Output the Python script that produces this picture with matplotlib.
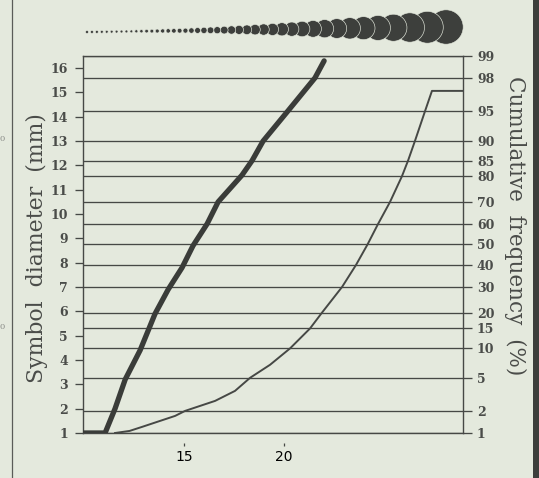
import math
import numpy as np
import matplotlib
matplotlib.use("Agg")
import matplotlib.pyplot as plt
from matplotlib.patches import Circle, Rectangle

# ---------------- data ----------------
# symbol scaling curve: data value -> symbol diameter (mm)
size_values = [9.92, 11.03, 11.53, 12.04, 12.79, 13.19, 13.54, 14.20, 14.90, 15.45,
               16.16, 16.71, 17.91, 18.42, 18.97, 20.18, 21.58, 22.04]
size_diam = [1.0, 1.0, 2.0, 3.2, 4.4, 5.2, 5.9, 6.9, 7.8, 8.7,
             9.6, 10.5, 11.6, 12.2, 13.0, 14.2, 15.6, 16.3]

# cumulative frequency curve: data value -> cumulative %
cum_values = [11.53, 12.26, 12.89, 14.55, 15.05, 16.56, 17.56, 18.32, 19.32, 20.33,
              21.33, 21.93, 22.94, 23.64, 24.22, 24.75, 25.35, 25.95, 26.26, 26.61,
              27.11, 27.46, 29.02]
cum_pct = [1.0, 1.07, 1.22, 1.72, 2.0, 2.68, 3.54, 5.0, 6.88, 10.0,
           15.0, 20.0, 30.0, 40.0, 50.0, 60.0, 70.0, 80.0, 85.0, 90.0,
           95.0, 97.1, 97.1]

# legend row of symbols (diameters in mm)
circle_mm = [1, 1, 1, 1, 1, 1, 1, 1, 1, 1,
             1.1, 1.2, 1.3, 1.4, 1.5, 1.6, 1.7, 1.8, 1.9, 2.0,
             2.2, 2.4, 2.6, 2.8, 3.0, 3.3, 3.6, 3.9, 4.2,
             4.6, 5.0, 5.4, 5.9, 6.4, 7.0, 7.6, 8.3, 9.0, 9.8,
             10.6, 11.5, 12.5, 13.6, 14.8, 16.0]

diam_ticks = list(range(1, 17))
pct_ticks = [1, 2, 5, 10, 15, 20, 30, 40, 50, 60, 70, 80, 85, 90, 95, 98, 99]
x_ticks = [15, 20]

# ---------------- helpers ----------------
def ppf(p):
    lo, hi = -8.0, 8.0
    for _ in range(80):
        mid = 0.5 * (lo + hi)
        if 0.5 * (1 + math.erf(mid / math.sqrt(2))) < p:
            lo = mid
        else:
            hi = mid
    return 0.5 * (lo + hi)

BG = "#e4e9dd"
INK = "#464845"
TXT = "#4a4c49"
SERIF = "DejaVu Serif"

W, H = 539, 478
fig = plt.figure(figsize=(W / 100, H / 100), dpi=100, facecolor=BG)

deco = fig.add_axes([0, 0, 1, 1])
deco.set_xlim(0, W)
deco.set_ylim(H, 0)
deco.axis("off")
deco.set_zorder(0)

ax = fig.add_axes([83 / W, 45 / H, 380 / W, 377 / H])
ax2 = ax.twinx()
ax.set_zorder(3)
ax2.set_zorder(2)
ax.patch.set_visible(False)
ax2.patch.set_visible(False)

# main (left) axis
ax.plot(size_values, size_diam, color="#3a3c39", lw=3.8, solid_capstyle="round",
        solid_joinstyle="round", zorder=5)
ax.set_xlim(9.92, 29.02)
ax.set_ylim(1, 16.5)
ax.set_yticks(diam_ticks)
ax.set_yticklabels([str(t) for t in diam_ticks], family=SERIF, fontsize=9,
                   fontweight="bold", color=TXT)
ax.tick_params(axis="y", direction="out", length=5.8, width=0.95, color=INK, pad=5)
ax.set_xticks(x_ticks)
ax.set_xticklabels([str(t) for t in x_ticks], family=SERIF, fontsize=9.5, color=TXT,
                   rotation=-90)
ax.tick_params(axis="x", direction="out", length=2.5, width=0.9, color=INK, pad=3)
ax.spines["bottom"].set_position(("outward", 7))
ax.spines["bottom"].set_visible(False)
ax.spines["top"].set_visible(False)
ax.spines["right"].set_visible(False)
ax.spines["left"].set_color(INK)
ax.spines["left"].set_linewidth(1.0)

# right probability axis
zlo, zhi = ppf(0.01), ppf(0.99)
ax2.set_ylim(zlo, zhi)
ax2.plot(cum_values, [ppf(p / 100) for p in cum_pct], color=INK, lw=1.4, zorder=4,
         solid_joinstyle="round")
ax2.set_yticks([ppf(p / 100) for p in pct_ticks])
ax2.set_yticklabels([str(p) for p in pct_ticks], family=SERIF, fontsize=9,
                    fontweight="bold", color=TXT)
ax2.tick_params(axis="y", direction="out", length=6.5, width=0.95, color=INK, pad=3.5)
ax2.grid(axis="y", color=INK, lw=0.95)
for s in ["bottom", "top", "right"]:
    ax2.spines[s].set_color(INK)
    ax2.spines[s].set_linewidth(1.0)
ax2.spines["left"].set_visible(False)

# axis titles
fig.text(37 / W, 1 - 248 / H, "Symbol  diameter  (mm)", rotation=90, ha="center",
         va="center", family=SERIF, fontsize=15.8, color=TXT)
fig.text(515 / W, 1 - 226 / H, "Cumulative  frequency  (%)", rotation=-90, ha="center",
         va="center", family=SERIF, fontsize=15.5, color=TXT)

# frame decorations
deco.plot([12, 12], [0, H], color="#5a5c58", lw=0.9)
deco.add_patch(Rectangle((533, 0), 6, H, color="#3c3e3b", lw=0))
deco.text(0, 139, "0", fontsize=6, color="#8a8c88", ha="left", va="center", family=SERIF)
deco.text(0, 327, "0", fontsize=6, color="#8a8c88", ha="left", va="center", family=SERIF)

# legend row of circles (layout computed by packing)
px_per_mm = 2.1
dpx = np.array(circle_mm) * px_per_mm + 0.8
steps = 0.49 * (dpx[:-1] + dpx[1:]) / 2 + 3.9
offs = np.concatenate([[0], np.cumsum(steps)])
x0, x1 = 87.0, 446.0
cx = x0 + offs / offs[-1] * (x1 - x0)
cy = 32.0 - 5.0 * (cx - x0) / (x1 - x0)
for i in range(len(dpx) - 1, -1, -1):
    deco.add_patch(Circle((cx[i], cy[i]), dpx[i] / 2, facecolor="#3d3f3c",
                          edgecolor=BG, lw=0.45))

fig.savefig("out.png", dpi=100, facecolor=BG)
